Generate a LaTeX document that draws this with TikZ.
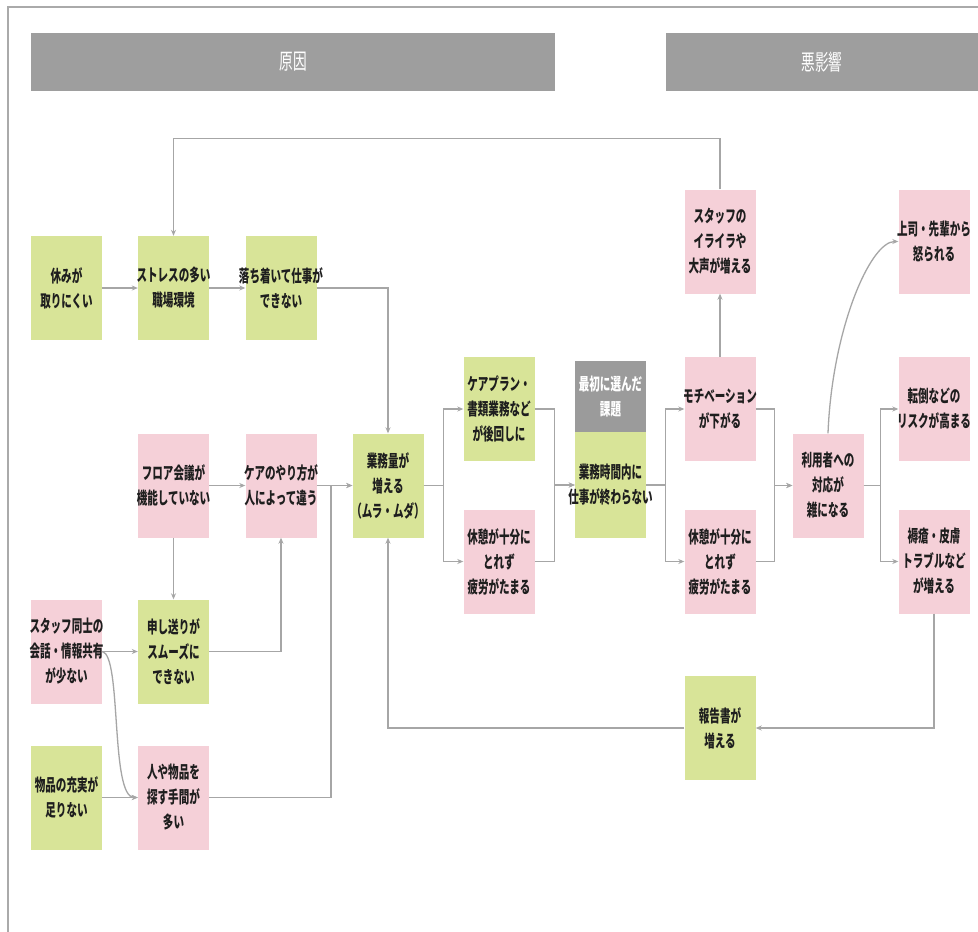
\documentclass[tikz,border=0pt]{standalone}
\usepackage{fontspec}
\newfontfamily\jp[FakeStretch=0.62]{Noto Sans CJK JP}
\newfontfamily\jphead[FakeStretch=0.62]{Noto Sans CJK JP}
\usetikzlibrary{arrows.meta,calc}
\definecolor{lgreen}{RGB}{216,228,152}
\definecolor{lpink}{RGB}{245,208,216}
\definecolor{headgray}{RGB}{158,158,158}
\definecolor{topicgray}{RGB}{155,155,155}
\definecolor{lncol}{RGB}{166,166,166}
\definecolor{framecol}{RGB}{170,170,170}
\definecolor{txt}{RGB}{30,30,30}
% one centred text line that may spill evenly past the box edges
\newcommand\bl[1]{\makebox[60pt]{#1}}
\begin{document}
\begin{tikzpicture}[x=1pt,y=-1pt,
  box/.style={minimum width=71, minimum height=104, inner sep=0, align=center,
    font=\jp\bfseries\fontsize{17}{25}\selectfont, text=txt},
  gbox/.style={box, fill=lgreen},
  pbox/.style={box, fill=lpink},
  head/.style={fill=headgray, minimum height=58, inner sep=0, text=white,
    font=\jphead\fontsize{22}{24}\selectfont},
  ln/.style={draw=lncol, line width=1.3},
  arr/.style={ln, -{Stealth[length=6,width=5]}}]
\useasboundingbox (0,0) rectangle (978,932);
\fill[white] (0,0) rectangle (978,932);
% outer frame (top and left edges)
\draw[framecol, line width=1.5] (978,7) -- (8,7) -- (8,932);

% section headers
\node[head, minimum width=524] (hcause) at (293,62) {原因};
\node[head, minimum width=312] (heffect) at (822,62) {悪影響};

% causes
\node[gbox] (yasumi)    at (66.5,288)    {\bl{休みが}\\\bl{取りにくい}};
\node[gbox] (stress)    at (173.5,288)   {\bl{ストレスの多い}\\\bl{職場環境}};
\node[gbox] (ochitsuki) at (281,288)     {\bl{落ち着いて仕事が}\\\bl{できない}};
\node[pbox] (floor)     at (173.5,485.5) {\bl{フロア会議が}\\\bl{機能していない}};
\node[pbox] (care)      at (281,485.5)   {\bl{ケアのやり方が}\\\bl{人によって違う}};
\node[gbox] (gyomu)     at (388,485.5)   {\bl{業務量が}\\\bl{増える}\\\bl{（ムラ・ムダ）}};
\node[pbox] (staff)     at (66.5,651.5)  {\bl{スタッフ同士の}\\\bl{会話・情報共有}\\\bl{が少ない}};
\node[gbox] (moshi)     at (173.5,651.5) {\bl{申し送りが}\\\bl{スムーズに}\\\bl{できない}};
\node[gbox] (buppin)    at (66.5,797.5)  {\bl{物品の充実が}\\\bl{足りない}};
\node[pbox] (hito)      at (173.5,797.5) {\bl{人や物品を}\\\bl{探す手間が}\\\bl{多い}};

% middle
\node[gbox] (careplan)  at (499,409)     {\bl{ケアプラン・}\\\bl{書類業務など}\\\bl{が後回しに}};
\node[pbox] (kyukei1)   at (499,561.5)   {\bl{休憩が十分に}\\\bl{とれず}\\\bl{疲労がたまる}};
\node[box, fill=topicgray, text=white, minimum height=71] (kadai) at (610.5,396.5) {\bl{最初に選んだ}\\\bl{課題}};
\node[gbox, minimum height=106] (jikan) at (610.5,485) {\bl{業務時間内に}\\\bl{仕事が終わらない}};

% effects
\node[pbox] (iraira)    at (720,241.5)   {\bl{スタッフの}\\\bl{イライラや}\\\bl{大声が増える}};
\node[pbox] (joshi)     at (934,241.5)   {\bl{上司・先輩から}\\\bl{怒られる}};
\node[pbox] (motiv)     at (720,409)     {\bl{モチベーション}\\\bl{が下がる}};
\node[pbox] (tento)     at (934,409)     {\bl{転倒などの}\\\bl{リスクが高まる}};
\node[pbox] (riyosha)   at (828,485.5)   {\bl{利用者への}\\\bl{対応が}\\\bl{雑になる}};
\node[pbox] (kyukei2)   at (720,561.5)   {\bl{休憩が十分に}\\\bl{とれず}\\\bl{疲労がたまる}};
\node[pbox] (jokuso)    at (934,561.5)   {\bl{褥瘡・皮膚}\\\bl{トラブルなど}\\\bl{が増える}};
\node[gbox] (hokoku)    at (720,728)     {\bl{報告書が}\\\bl{増える}};

% connectors among causes
\draw[arr] (yasumi.east) -- (stress.west);
\draw[arr] (stress.east) -- (ochitsuki.west);
\draw[arr] (ochitsuki.east) -| (gyomu.north);
\draw[arr] (floor.east) -- (care.west);
\draw[arr] (floor.south) -- (moshi.north);
\draw[arr] (moshi.east) -| (care.south);
\draw[arr] (care.east) -- (gyomu.west);
\draw[arr] (hito.east) -| ($(care.east)!0.4!(gyomu.west)$) -- (gyomu.west);
\draw[arr] (staff.east) -- (moshi.west);
\draw[arr] (staff.east) .. controls (122,655) and (110,797.5) .. (hito.west);
\draw[arr] (buppin.east) -- (hito.west);

% workload branches
\draw[arr] (gyomu.east) -- ++(20,0) |- (careplan.west);
\draw[arr] (gyomu.east) -- ++(20,0) |- (kyukei1.west);
\draw[arr] (careplan.east) -- ++(20,0) |- (jikan.west);
\draw[arr] (kyukei1.east) -- ++(20,0) |- (jikan.west);
\draw[arr] (jikan.east) -- ++(19,0) |- (motiv.west);
\draw[arr] (jikan.east) -- ++(19,0) |- (kyukei2.west);
\draw[arr] (motiv.east) -- ++(19,0) |- (riyosha.west);
\draw[arr] (kyukei2.east) -- ++(19,0) |- (riyosha.west);
\draw[arr] (riyosha.east) -- ++(17,0) |- (tento.west);
\draw[arr] (riyosha.east) -- ++(17,0) |- (jokuso.west);
\draw[arr] (riyosha.north) .. controls (832,330) and (870,241.5) .. (joshi.west);
\draw[arr] (motiv.north) -- (iraira.south);

% feedback loops
\draw[arr] (iraira.north) -- ++(0,-51) -| (stress.north);
\draw[arr] (jokuso.south) |- (hokoku.east);
\draw[arr] (hokoku.west) -| (gyomu.south);
\end{tikzpicture}
\end{document}
